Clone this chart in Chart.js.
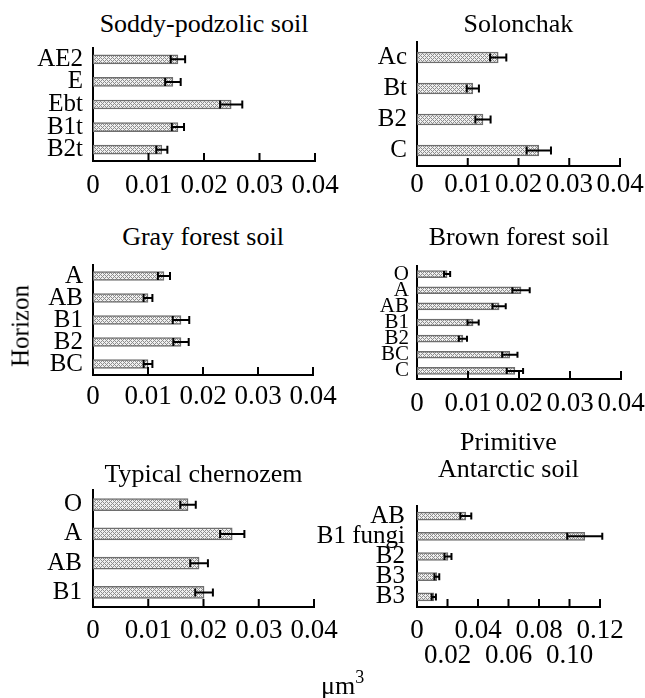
<!DOCTYPE html>
<html>
<head>
<meta charset="utf-8">
<script src="https://cdn.jsdelivr.net/npm/chart.js@4.4.0/dist/chart.umd.min.js"></script>
<style>
  body { margin: 0; background: #fff; }
  #wrap { position: relative; width: 645px; height: 698px; overflow: hidden;
          font-family: 'Liberation Serif', 'Times New Roman', serif; color: #000; }
  #wrap canvas { position: absolute; }
  .title { position: absolute; text-align: center; font-size: 26px; line-height: 26px; white-space: nowrap; }
  .note { position: absolute; white-space: nowrap; }
</style>
</head>
<body>
<div id="wrap"></div>
<script>
// ---- data (volumes, um^3) ----
const soddyLabels = ['AE2', 'E', 'Ebt', 'B1t', 'B2t'];
const soddyValues = [0.0153, 0.0144, 0.0249, 0.0153, 0.0124];
const soddyErrors = [0.0013, 0.0014, 0.0020, 0.0011, 0.0010];

const solonLabels = ['Ac', 'Bt', 'B2', 'C'];
const solonValues = [0.0160, 0.0110, 0.0130, 0.0240];
const solonErrors = [0.0016, 0.0012, 0.0015, 0.0024];

const grayLabels = ['A', 'AB', 'B1', 'B2', 'BC'];
const grayValues = [0.0129, 0.0100, 0.0160, 0.0160, 0.0100];
const grayErrors = [0.0011, 0.0008, 0.0015, 0.0014, 0.0008];

const brownLabels = ['O', 'A', 'AB', 'B1', 'B2', 'BC', 'C'];
const brownValues = [0.0059, 0.0204, 0.0161, 0.0110, 0.0090, 0.0182, 0.0192];
const brownErrors = [0.0006, 0.0017, 0.0013, 0.0011, 0.0008, 0.0015, 0.0016];

const chernLabels = ['O', 'A', 'AB', 'B1'];
const chernValues = [0.0172, 0.0252, 0.0192, 0.0201];
const chernErrors = [0.0014, 0.0022, 0.0016, 0.0016];

const antLabels = ['AB', 'B1 fungi', 'B2', 'B3', 'B3'];
const antValues = [0.0320, 0.1100, 0.0203, 0.0130, 0.0110];
const antErrors = [0.0036, 0.0115, 0.0023, 0.0016, 0.0014];

const ticksSmall = [0, 0.01, 0.02, 0.03, 0.04];
const tickLabelsSmall = ['0', '0.01', '0.02', '0.03', '0.04'];
const ticksBig = [0, 0.02, 0.04, 0.06, 0.08, 0.10, 0.12];
const tickLabelsBig = ['0', '0.02', '0.04', '0.06', '0.08', '0.10', '0.12'];

const FONT = "'Liberation Serif', 'Times New Roman', serif";
const TICK_SIZE = 27;
const wrap = document.getElementById('wrap');

// small "x" dot lattice like the printed fill
function hatch() {
    const c = document.createElement('canvas');
    c.width = 4; c.height = 4;
    const g = c.getContext('2d');
    g.fillStyle = '#efefef'; g.fillRect(0, 0, 4, 4);
    g.fillStyle = '#8e8e8e';
    [[0, 0], [2, 0], [1, 1], [0, 2], [2, 2], [3, 3]].forEach(([x, y]) => g.fillRect(x, y, 1, 1));
    return g.createPattern(c, 'repeat');
}

// error bars + inward tick marks on the value axis
const errorBars = {
    id: 'errorBars',
    afterDatasetsDraw(chart, args, opts) {
        const ctx = chart.ctx;
        const xs = chart.scales.x;
        const ds = chart.data.datasets[0];
        const meta = chart.getDatasetMeta(0);
        const h = opts.cap / 2;
        ctx.save();
        ctx.strokeStyle = '#000';
        ctx.lineWidth = 2;
        ctx.beginPath();
        meta.data.forEach((bar, i) => {
            const v = ds.data[i], e = ds.errors[i];
            const x1 = xs.getPixelForValue(v - e), x2 = xs.getPixelForValue(v + e);
            ctx.moveTo(x1, bar.y); ctx.lineTo(x2, bar.y);
            ctx.moveTo(x1, bar.y - h); ctx.lineTo(x1, bar.y + h);
            ctx.moveTo(x2, bar.y - h); ctx.lineTo(x2, bar.y + h);
        });
        const base = xs.top;
        xs.ticks.forEach((t, i) => {
            if (i === 0) return;
            const px = xs.getPixelForTick(i);
            ctx.moveTo(px, base); ctx.lineTo(px, base - 8);
        });
        ctx.stroke();
        ctx.restore();
    }
};

const panels = [
    { title: 'Soddy-podzolic soil', labels: soddyLabels, values: soddyValues, errors: soddyErrors,
      ticks: ticksSmall, tickLabels: tickLabelsSmall, max: 0.04,
      l: 93, r: 315, t: 48, b: 161, yw: 90, xh: 45, yPad: 10, xPad: 11, yFont: 25, bar: 9, cap: 8, titleTop: 10.5 },
    { title: 'Solonchak', labels: solonLabels, values: solonValues, errors: solonErrors,
      ticks: ticksSmall, tickLabels: tickLabelsSmall, max: 0.04,
      l: 417, r: 620, t: 42, b: 166, yw: 90, xh: 45, yPad: 10, xPad: 5, yFont: 25, bar: 11, cap: 8, titleTop: 10.5 },
    { title: 'Gray forest soil', labels: grayLabels, values: grayValues, errors: grayErrors,
      ticks: ticksSmall, tickLabels: tickLabelsSmall, max: 0.04,
      l: 93, r: 313, t: 265, b: 375, yw: 90, xh: 45, yPad: 10, xPad: 8, yFont: 25, bar: 9, cap: 8, titleTop: 223.5 },
    { title: 'Brown forest soil', labels: brownLabels, values: brownValues, errors: brownErrors,
      ticks: ticksSmall, tickLabels: tickLabelsSmall, max: 0.04,
      l: 417, r: 621, t: 266, b: 379, yw: 90, xh: 45, yPad: 8, xPad: 11, yFont: 21, bar: 7, cap: 6, titleTop: 223.5 },
    { title: 'Typical chernozem', labels: chernLabels, values: chernValues, errors: chernErrors,
      ticks: ticksSmall, tickLabels: tickLabelsSmall, max: 0.04,
      l: 93, r: 314, t: 490, b: 607, yw: 90, xh: 45, yPad: 11, xPad: 10, yFont: 25, bar: 12, cap: 8, titleTop: 461 },
    { title: 'Primitive<br>Antarctic soil', labels: antLabels, values: antValues, errors: antErrors,
      ticks: ticksBig, tickLabels: tickLabelsBig, max: 0.12, twoRows: true,
      l: 417, r: 600, t: 506, b: 607, yw: 115, xh: 70, yPad: 12, xPad: 11, yFont: 25, bar: 8, cap: 7, titleTop: 428, titleLH: 27 }
];

const RIGHT_PAD = 30, TOP_PAD = 4;

panels.forEach(p => {
    const cv = document.createElement('canvas');
    const w = (p.r - p.l) + p.yw + RIGHT_PAD;
    const h = (p.b - p.t) + TOP_PAD + p.xh;
    cv.width = w; cv.height = h;
    cv.style.left = (p.l - p.yw) + 'px';
    cv.style.top = (p.t - TOP_PAD) + 'px';
    wrap.appendChild(cv);

    new Chart(cv, {
        type: 'bar',
        data: {
            labels: p.labels,
            datasets: [{
                data: p.values,
                errors: p.errors,
                backgroundColor: hatch(),
                borderColor: '#6e6e6e',
                borderWidth: 1.5,
                borderSkipped: false,
                barThickness: p.bar
            }]
        },
        options: {
            indexAxis: 'y',
            responsive: false,
            animation: false,
            layout: { padding: { top: TOP_PAD, right: RIGHT_PAD, left: 0, bottom: 0 } },
            plugins: { legend: { display: false }, tooltip: { enabled: false }, errorBars: { cap: p.cap } },
            scales: {
                x: {
                    type: 'linear', min: 0, max: p.max,
                    grid: { display: false, drawTicks: false },
                    border: { display: true, color: '#000', width: 2 },
                    afterBuildTicks: s => { s.ticks = p.ticks.map(v => ({ value: v })); },
                    ticks: {
                        color: '#000', padding: p.xPad, autoSkip: false, maxRotation: 0, minRotation: 0,
                        font: { family: FONT, size: TICK_SIZE, lineHeight: p.twoRows ? 25 / TICK_SIZE : 1 },
                        callback: (v, i) => p.twoRows && i % 2 === 1 ? ['', p.tickLabels[i]] : p.tickLabels[i]
                    },
                    afterFit: s => { s.height = p.xh; s.paddingLeft = 0; s.paddingRight = 0; }
                },
                y: {
                    grid: { display: false, drawTicks: false },
                    border: { display: true, color: '#000', width: 2 },
                    ticks: { color: '#000', padding: p.yPad, autoSkip: false, font: { family: FONT, size: p.yFont, lineHeight: 1 } },
                    afterFit: s => { s.width = p.yw; s.paddingTop = 0; s.paddingBottom = 0; }
                }
            }
        },
        plugins: [errorBars]
    });

    const t = document.createElement('div');
    t.className = 'title';
    t.innerHTML = p.title;
    t.style.left = p.l + 'px';
    t.style.width = (p.r - p.l) + 'px';
    t.style.top = p.titleTop + 'px';
    if (p.titleLH) t.style.lineHeight = p.titleLH + 'px';
    wrap.appendChild(t);
});

// shared axis captions
const yCap = document.createElement('div');
yCap.className = 'note';
yCap.textContent = 'Horizon';
yCap.style.cssText += 'left:20px;top:326px;font-size:25px;line-height:25px;transform:translate(-50%,-50%) rotate(-90deg);';
wrap.appendChild(yCap);

const xCap = document.createElement('div');
xCap.className = 'note';
xCap.innerHTML = 'μm<span style="position:relative;top:-11px;font-size:18px">3</span>';
xCap.style.cssText += 'left:321px;top:673px;font-size:26px;line-height:26px;';
wrap.appendChild(xCap);
</script>
</body>
</html>
